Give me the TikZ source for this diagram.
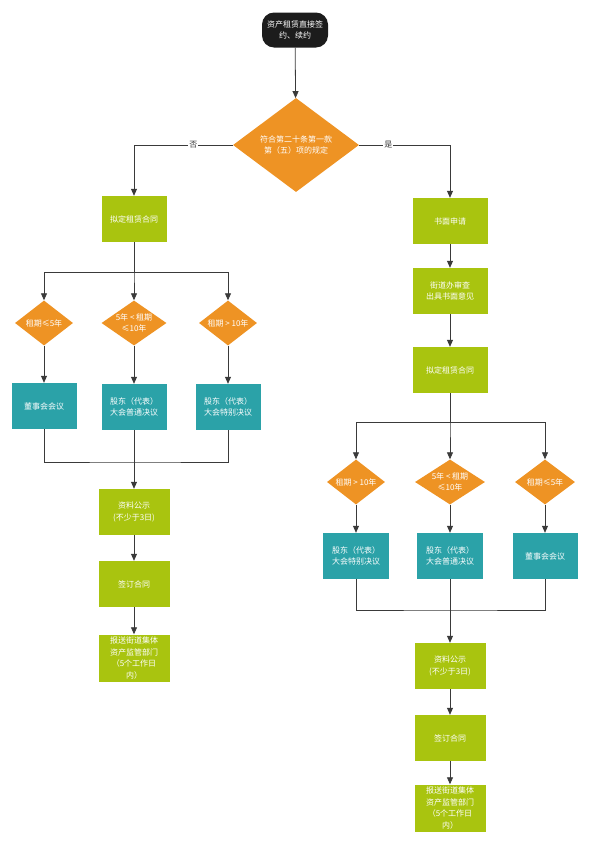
\documentclass[tikz,border=0pt]{standalone}
\usepackage{fontspec}
\setmainfont{Noto Sans CJK SC}
\usetikzlibrary{shapes.geometric,arrows.meta}

\definecolor{stepgreen}{HTML}{A9C40F}
\definecolor{voteteal}{HTML}{2BA2A8}
\definecolor{testorange}{HTML}{EE9324}
\definecolor{startblack}{HTML}{1C1C1C}
\definecolor{linegray}{HTML}{3A3A3A}

\begin{document}
\begin{tikzpicture}
[
	x=1pt,y=-1pt,
	font=\fontsize{8}{11.5}\selectfont,
	startbox/.style={rectangle,rounded corners=12pt,fill=startblack,text=white,minimum width=66pt,minimum height=35pt,align=center,inner sep=1pt},
	stepbox/.style={rectangle,fill=stepgreen,text=white,minimum width=71pt,minimum height=46pt,align=center,inner sep=1pt},
	votebox/.style={rectangle,fill=voteteal,text=white,minimum width=65pt,minimum height=46pt,align=center,inner sep=1pt},
	testbox/.style={diamond,fill=testorange,text=white,inner sep=-4pt,align=center},
	arr/.style={draw=linegray,line width=0.8pt,-{Triangle[length=7pt,width=6pt]}},
	link/.style={draw=linegray,line width=0.8pt},
	yesno/.style={fill=white,inner sep=1pt,text=linegray}
]

	\useasboundingbox (0,0) rectangle (592,846);

	% start and main test
	\node[startbox] (start) at (295,30) {资产租赁直接签\\约、续约};
	\node[testbox,minimum width=126pt,minimum height=94pt] (rule) at (296,145) {符合第二十条第一款\\第（五）项的规定};

	% left branch
	\node[stepbox,minimum width=65pt] (ldraft) at (134,219) {拟定租赁合同};
	\node[testbox,minimum width=58pt,minimum height=45pt] (lt1) at (44,323) {租期≤5年};
	\node[testbox,minimum width=65pt,minimum height=45pt] (lt2) at (134,323) {5年 < 租期\\≤10年};
	\node[testbox,minimum width=58pt,minimum height=45pt] (lt3) at (228,323) {租期 > 10年};
	\node[votebox] (lv1) at (44,406) {董事会会议};
	\node[votebox] (lv2) at (134,407) {股东（代表）\\大会普通决议};
	\node[votebox] (lv3) at (228,407) {股东（代表）\\大会特别决议};
	\coordinate (ljoin) at (134,462);
	\node[stepbox] (lpub) at (134,512) {资料公示\\(不少于3日)};
	\node[stepbox] (lsign) at (134,584) {签订合同};
	\node[stepbox,minimum height=47pt] (lsend) at (134,658) {报送街道集体\\资产监管部门\\（5个工作日\\内）};

	% right branch
	\node[stepbox,minimum width=75pt] (rapply) at (450,221) {书面申请};
	\node[stepbox,minimum width=75pt] (rcheck) at (450,291) {街道办审查\\出具书面意见};
	\node[stepbox,minimum width=75pt] (rdraft) at (450,370) {拟定租赁合同};
	\node[testbox,minimum width=58pt,minimum height=45pt] (rt1) at (356,482) {租期 > 10年};
	\node[testbox,minimum width=70pt,minimum height=45pt] (rt2) at (450,482) {5年 < 租期\\≤10年};
	\node[testbox,minimum width=60pt,minimum height=45pt] (rt3) at (545,482) {租期≤5年};
	\node[votebox,minimum width=66pt] (rv1) at (356,556) {股东（代表）\\大会特别决议};
	\node[votebox,minimum width=66pt] (rv2) at (450,556) {股东（代表）\\大会普通决议};
	\node[votebox] (rv3) at (545,556) {董事会会议};
	\coordinate (rjoin) at (450,610);
	\node[stepbox] (rpub) at (450,666) {资料公示\\(不少于3日)};
	\node[stepbox] (rsign) at (450,738) {签订合同};
	\node[stepbox,minimum height=47pt] (rsend) at (450,808) {报送街道集体\\资产监管部门\\（5个工作日\\内）};

	% connectors
	\draw[arr] (start) -- (rule);
	\draw[arr] (rule.west) -| node[yesno,pos=0.2] {否} (ldraft);
	\draw[arr] (rule.east) -| node[yesno,pos=0.16] {是} (rapply);

	\foreach \t/\v in {lt1/lv1,lt2/lv2,lt3/lv3} {
		\draw[arr] (ldraft.south) -- ++(0,30) -| (\t);
		\draw[arr] (\t) -- (\v);
	}
	\draw[link] (lv1.south) |- (ljoin) -| (lv3.south);
	\draw[arr] (lv2) -- (lpub);
	\draw[arr] (lpub) -- (lsign);
	\draw[arr] (lsign) -- (lsend);

	\draw[arr] (rapply) -- (rcheck);
	\draw[arr] (rcheck) -- (rdraft);
	\foreach \t/\v in {rt1/rv1,rt2/rv2,rt3/rv3} {
		\draw[arr] (rdraft.south) -- ++(0,29) -| (\t);
		\draw[arr] (\t) -- (\v);
	}
	\draw[link] (rv1.south) |- (rjoin) -| (rv3.south);
	\draw[arr] (rv2) -- (rpub);
	\draw[arr] (rpub) -- (rsign);
	\draw[arr] (rsign) -- (rsend);

\end{tikzpicture}
\end{document}
